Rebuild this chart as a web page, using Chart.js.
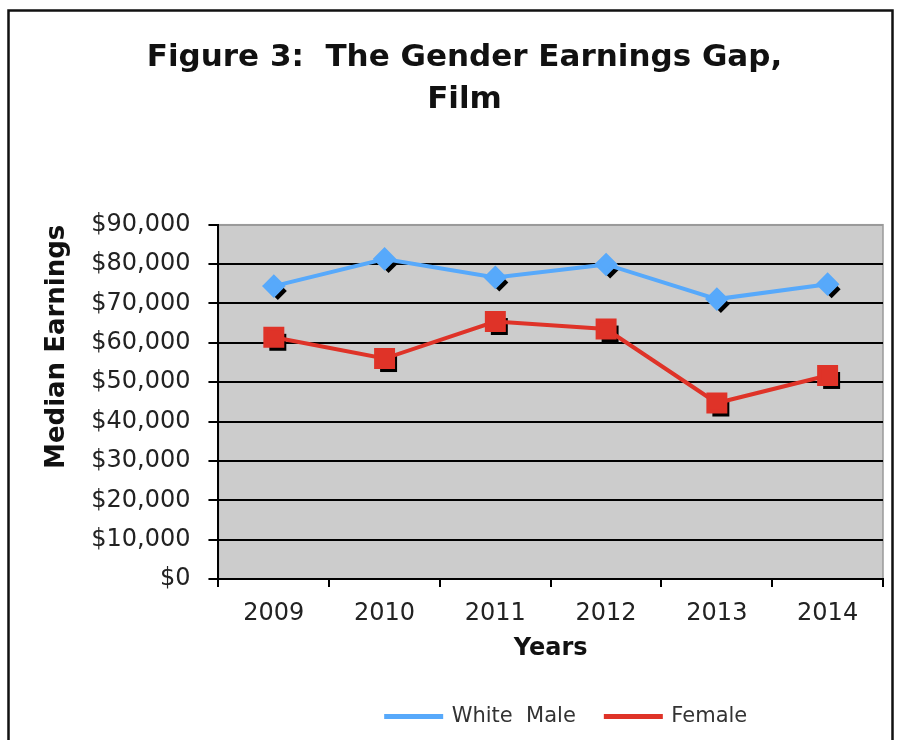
<!DOCTYPE html>
<html>
<head>
<meta charset="utf-8">
<script src="https://cdn.jsdelivr.net/npm/chart.js@4/dist/chart.umd.min.js"></script>
<style>
  html, body { margin: 0; padding: 0; background: #fff; }
  #wrap { width: 899px; height: 740px; }
</style>
</head>
<body>
<div id="wrap"><canvas id="chart" width="899" height="740"></canvas></div>
<script>
// data
var years = ['2009', '2010', '2011', '2012', '2013', '2014'];
var whiteMale = [74400, 81300, 76600, 79900, 71100, 74900];
var female = [61400, 56000, 65400, 63500, 44700, 51700];
var yTicksMax = 90000;
var yTickStep = 10000;

var FONT = 'DejaVu Sans';

// grey plot area + outer frame of the figure
var plotBg = {
  id: 'plotBg',
  afterLayout: function(chart) {
    // legend in the original sits a little right of centre
    if (chart.legend) { chart.legend.left += 16; chart.legend.right += 16; }
  },
  beforeDraw: function(chart) {
    var ctx = chart.ctx, a = chart.chartArea;
    ctx.save();
    ctx.fillStyle = '#cccccc';
    ctx.fillRect(a.left, a.top, a.right - a.left, a.bottom - a.top);
    ctx.strokeStyle = '#9a9a9a';
    ctx.lineWidth = 1.5;
    ctx.strokeRect(a.left, a.top, a.right - a.left, a.bottom - a.top);
    ctx.restore();
  },
  afterDraw: function(chart) {
    var ctx = chart.ctx;
    ctx.save();
    ctx.strokeStyle = '#111';
    ctx.lineWidth = 2.5;
    ctx.strokeRect(8.5, 10.5, 884, 800);
    ctx.restore();
  }
};

// black drop shadow under each marker (excel style)
var markerShadow = {
  id: 'markerShadow',
  beforeDatasetDraw: function(chart, args) {
    var ctx = chart.ctx;
    ctx.save();
    ctx.fillStyle = '#000';
    args.meta.data.forEach(function(pt) {
      var r = pt.options.radius, x = pt.x + 4, y = pt.y + 5;
      ctx.beginPath();
      if (pt.options.pointStyle === 'rect') {
        var s = r * Math.SQRT1_2;
        ctx.rect(x - s, y - s, 2 * s, 2 * s);
      } else {
        ctx.moveTo(x, y - r); ctx.lineTo(x + r, y); ctx.lineTo(x, y + r); ctx.lineTo(x - r, y);
        ctx.closePath();
      }
      ctx.fill();
    });
    ctx.restore();
  }
};

new Chart(document.getElementById('chart'), {
  type: 'line',
  data: {
    labels: years,
    datasets: [{
      label: 'White  Male',
      data: whiteMale,
      borderColor: '#57a9fb',
      backgroundColor: '#57a9fb',
      borderWidth: 4,
      pointStyle: 'rectRot',
      pointRadius: 9,
      pointHoverRadius: 9,
      tension: 0
    }, {
      label: 'Female',
      data: female,
      borderColor: '#df3328',
      backgroundColor: '#df3328',
      borderWidth: 4,
      pointStyle: 'rect',
      pointRadius: 12,
      pointHoverRadius: 12,
      tension: 0
    }]
  },
  options: {
    responsive: false,
    animation: false,
    layout: { padding: { left: 42, right: 12, top: 0, bottom: 3 } },
    plugins: {
      title: {
        display: true,
        text: ['Figure 3:  The Gender Earnings Gap,', 'Film'],
        color: '#111',
        font: { family: FONT, size: 31, weight: 'bold', lineHeight: 1.35 },
        padding: { top: 37, bottom: 104 }
      },
      legend: {
        position: 'bottom',
        fullSize: false,
        labels: {
          color: '#333',
          font: { family: FONT, size: 21 },
          boxWidth: 55,
          boxHeight: 1,
          padding: 30
        }
      },
      tooltip: { enabled: false }
    },
    scales: {
      x: {
        offset: true,
        grid: { offset: true, drawOnChartArea: false, color: '#000', lineWidth: 2, tickLength: 8 },
        border: { color: '#000', width: 2 },
        ticks: { color: '#222', font: { family: FONT, size: 24, lineHeight: 1.0 }, padding: 15, maxRotation: 0 },
        title: { display: true, text: 'Years', color: '#111', font: { family: FONT, size: 24, weight: 'bold', lineHeight: 1.0 }, padding: { top: -4, bottom: 15 } }
      },
      y: {
        min: 0,
        max: yTicksMax,
        grid: {
          color: function(c) { return c.tick && c.tick.value === yTicksMax ? '#9a9a9a' : '#000'; },
          tickColor: '#000',
          lineWidth: 2,
          tickLength: 10
        },
        border: { color: '#000', width: 2 },
        ticks: {
          stepSize: yTickStep,
          color: '#222',
          padding: 18,
          font: { family: FONT, size: 24 },
          callback: function(v) { return '$' + v.toLocaleString('en-US'); }
        },
        title: { display: true, text: 'Median Earnings', align: 'end', color: '#111', font: { family: FONT, size: 26, weight: 'bold' }, padding: { top: 0, bottom: 0 } }
      }
    }
  },
  plugins: [plotBg, markerShadow]
});
</script>
</body>
</html>
